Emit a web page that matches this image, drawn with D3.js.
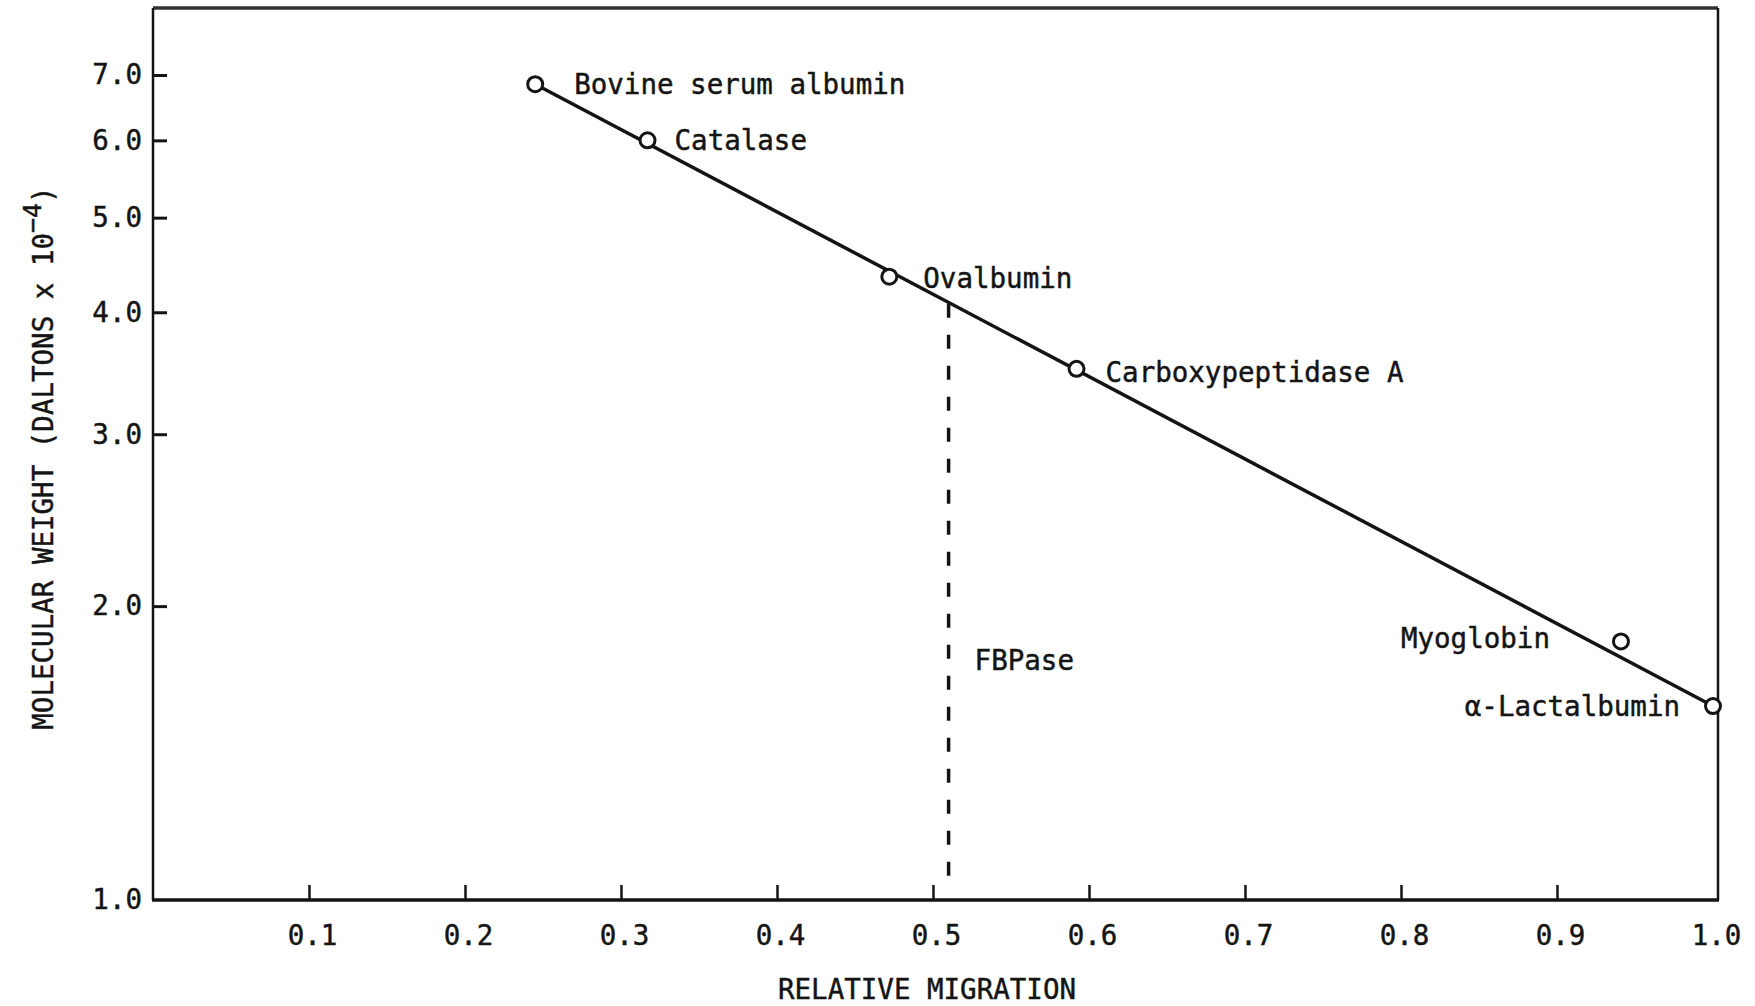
<!DOCTYPE html>
<html>
<head>
<meta charset="utf-8">
<script src="https://cdn.jsdelivr.net/npm/d3@7"></script>
<style>
  html, body { margin: 0; padding: 0; background: #fff; }
  svg { display: block; }
  text { font-family: "DejaVu Sans Mono", "Liberation Mono", monospace; fill: #141414; stroke: #141414; stroke-width: 0.45px; }
</style>
</head>
<body>
<script>
// ---- data ----
const proteins = ["Bovine serum albumin", "Catalase", "Ovalbumin", "Carboxypeptidase A", "Myoglobin", "α-Lactalbumin"];
const relMigration = [0.245, 0.317, 0.472, 0.592, 0.941, 1.0];
const molWeight = [6.85, 6.0, 4.35, 3.5, 1.84, 1.58];
const fitMigration = [0.245, 1.0];
const fitWeight = [6.85, 1.58];
const fbpaseLabel = "FBPase";
const fbpaseMigration = [0.51, 0.51];
const fbpaseWeight = [4.08, 1.04];
const xTicks = [0.1, 0.2, 0.3, 0.4, 0.5, 0.6, 0.7, 0.8, 0.9, 1.0];
const yTicks = [1, 2, 3, 4, 5, 6, 7];
const xTitle = "RELATIVE MIGRATION";
const yTitleMain = "MOLECULAR WEIGHT (DALTONS x 10";
const yTitleSup = "−4";
const yTitleEnd = ")";

// ---- layout (not data) ----
const W = 1755, H = 1006;
const FS = 27.5;
const ink = "#141414";
const frameTop = 8, frameRight = 1718;
const labelLayout = [
  { dx: 39, dy: 0, anchor: "start" },
  { dx: 27, dy: 0, anchor: "start" },
  { dx: 34, dy: 2, anchor: "start" },
  { dx: 29, dy: 4, anchor: "start" },
  { dx: -71, dy: -3, anchor: "end" },
  { dx: -33, dy: 0, anchor: "end" }
];

const x = d3.scaleLinear().domain([0, 1]).range([153, 1713]);
const y = d3.scaleLog().domain([1, 7]).range([900, 75]);

const svg = d3.select("body").append("svg").attr("width", W).attr("height", H);

// frame
const x0 = x(0), yb = y(1);
svg.append("line").attr("x1", x0).attr("x2", frameRight).attr("y1", frameTop).attr("y2", frameTop)
  .attr("stroke", "#333").attr("stroke-width", 3.5);
svg.append("line").attr("x1", frameRight).attr("x2", frameRight).attr("y1", frameTop).attr("y2", yb)
  .attr("stroke", ink).attr("stroke-width", 2.5);
svg.append("line").attr("x1", x0).attr("x2", x0).attr("y1", frameTop).attr("y2", yb)
  .attr("stroke", ink).attr("stroke-width", 2.5);
svg.append("line").attr("x1", x0 - 1).attr("x2", frameRight + 1).attr("y1", yb).attr("y2", yb)
  .attr("stroke", ink).attr("stroke-width", 3.5);

// y axis
const yAxis = d3.axisLeft(y).tickValues(yTicks).tickFormat(d3.format(".1f"))
  .tickSizeInner(-14).tickSizeOuter(0).tickPadding(11);
const gy = svg.append("g").attr("transform", `translate(${x0},0)`).call(yAxis);
gy.select(".domain").remove();
gy.selectAll(".tick line").attr("stroke", ink).attr("stroke-width", 3);
gy.selectAll(".tick text").attr("font-size", FS).attr("font-family", null).attr("fill", ink);
gy.selectAll(".tick").filter(d => d === 1).select("line").remove();

// x axis
const xAxis = d3.axisBottom(x).tickValues(xTicks).tickFormat(d3.format(".1f"))
  .tickSizeInner(-15).tickSizeOuter(0).tickPadding(25);
const gx = svg.append("g").attr("transform", `translate(0,${yb})`).call(xAxis);
gx.select(".domain").remove();
gx.selectAll(".tick line").attr("stroke", ink).attr("stroke-width", 2.5);
gx.selectAll(".tick").filter(d => d === 1).select("line").remove();
gx.selectAll(".tick text").attr("font-size", FS).attr("font-family", null).attr("fill", ink).attr("dx", 3);

// axis titles
svg.append("text").attr("x", x(0.5) - 6).attr("y", 999)
  .attr("text-anchor", "middle").attr("font-size", FS).text(xTitle);

const yt = svg.append("text").attr("transform", `translate(53,458) rotate(-90)`)
  .attr("text-anchor", "middle").attr("font-size", FS);
yt.append("tspan").text(yTitleMain);
yt.append("tspan").attr("dy", -12).attr("font-size", 25).text(yTitleSup);
yt.append("tspan").attr("dy", 12).text(yTitleEnd);

// fitted standard line
const fitData = fitMigration.map((m, i) => [m, fitWeight[i]]);
svg.append("path").datum(fitData)
  .attr("d", d3.line().x(d => x(d[0])).y(d => y(d[1])))
  .attr("fill", "none").attr("stroke", ink).attr("stroke-width", 3.5);

// FBPase dashed line
const fbData = fbpaseMigration.map((m, i) => [m, fbpaseWeight[i]]);
svg.append("path").datum(fbData)
  .attr("d", d3.line().x(d => x(d[0])).y(d => y(d[1])))
  .attr("fill", "none").attr("stroke", ink).attr("stroke-width", 3.5)
  .attr("stroke-dasharray", "14 17");
svg.append("text").attr("x", x(fbpaseMigration[0]) + 26).attr("y", y(1.76))
  .attr("dy", "0.35em").attr("font-size", FS).text(fbpaseLabel);

// points
const pts = proteins.map((p, i) => ({ name: p, m: relMigration[i], w: molWeight[i], lay: labelLayout[i] }));
svg.selectAll("circle.pt").data(pts).enter().append("circle")
  .attr("class", "pt")
  .attr("cx", d => x(d.m)).attr("cy", d => y(d.w)).attr("r", 7.5)
  .attr("fill", "#fff").attr("stroke", ink).attr("stroke-width", 3);

svg.selectAll("text.lbl").data(pts).enter().append("text")
  .attr("class", "lbl")
  .attr("x", d => x(d.m) + d.lay.dx).attr("y", d => y(d.w) + d.lay.dy)
  .attr("dy", "0.35em").attr("text-anchor", d => d.lay.anchor)
  .attr("font-size", FS).text(d => d.name);
</script>
</body>
</html>
